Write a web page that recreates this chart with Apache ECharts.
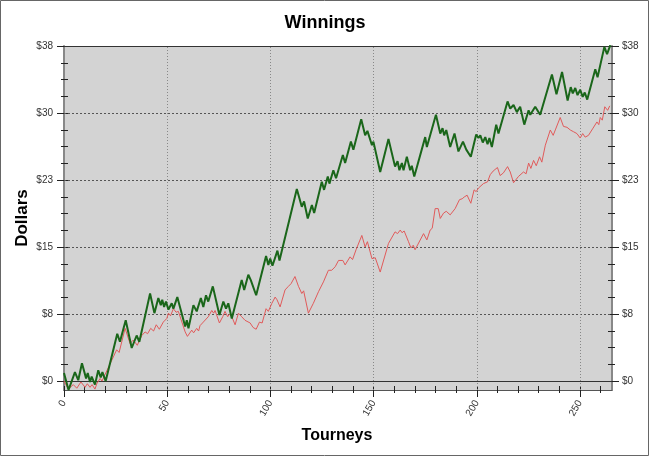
<!DOCTYPE html>
<html>
<head>
<meta charset="utf-8">
<script src="https://cdn.jsdelivr.net/npm/echarts@6/dist/echarts.min.js"></script>
<style>
html,body{margin:0;padding:0;background:#fff;}
#chart{width:650px;height:457px;}
</style>
</head>
<body>
<div id="chart"></div>
<script>
// ---- data (tourney, dollars) ----
const greenX = [0,2.2,5.3,6.9,8.7,10.7,11.5,12.6,13.4,15.0,
16.6,17.8,18.6,20.2,25.8,27.1,29.9,32.8,35.2,36.5,
41.7,43.8,45.7,46.9,47.6,48.5,49.4,50.6,52.2,53.0,
54.9,58.7,59.5,60.3,62.7,64.3,66.3,67.5,68.8,69.9,
72.1,75.3,77.2,78.5,79.6,81.3,86.1,87.3,89.3,90.5,
93.1,97.9,99.0,99.9,101.0,103.4,104.4,112.8,115.2,116.3,
118.1,120.1,121.2,124.9,126.0,127.8,128.6,130.5,131.8,135.1,
136.2,139.0,140.2,144.0,145.9,147.0,149.2,149.9,153.2,157.2,
160.4,161.6,162.5,163.7,164.5,166.1,167.7,168.5,169.7,175.0,
175.8,180.2,182.3,183.4,184.2,185.2,187.1,189.2,191.1,193.3,
194.9,197.1,199.7,200.8,201.7,202.9,204.1,205.2,206.1,207.3,
209.4,210.5,214.9,216.2,217.8,219.4,221.0,223.0,225.1,225.9,
228.3,230.7,236.4,238.6,241.3,244.0,245.5,246.5,247.7,248.8,
250.1,251.3,252.3,253.5,257.4,258.5,261.8,263.1,264.7];
const greenY = [0.9,-1.0,1.0,0.1,2.0,0.3,0.9,-0.1,0.5,-0.4,
1.2,0.4,1.0,0.0,5.3,4.4,6.8,3.7,5.1,4.4,
9.8,7.6,9.3,8.5,9.1,8.3,8.9,8.0,8.7,8.1,
9.4,6.1,6.8,5.9,8.5,7.8,9.3,8.3,9.6,8.9,
10.6,7.4,8.9,8.1,8.7,7.0,11.3,10.2,11.9,11.3,
9.6,14.0,13.0,13.7,12.9,14.6,13.5,21.5,19.5,20.1,
18.2,19.7,18.8,22.3,21.4,22.9,22.1,23.6,22.7,25.3,
24.4,26.8,25.9,29.3,27.5,28.0,26.4,26.8,23.4,27.1,
24.0,24.6,23.6,24.4,23.6,25.1,23.6,24.1,22.9,27.3,
26.2,29.8,27.7,28.3,27.5,28.1,26.2,27.7,25.7,26.8,
25.9,25.1,27.6,27.2,27.5,26.7,27.3,26.5,27.2,26.2,
28.7,27.7,31.3,30.5,30.9,30.1,30.7,28.7,30.3,29.8,
30.7,29.8,34.3,32.1,34.6,31.4,32.9,32.2,32.8,32.0,
32.6,31.8,32.3,31.5,34.9,34.0,37.4,36.6,37.6];

const redX = [0,2.1,4.5,6.2,8.2,10.2,11.3,12.6,13.6,15.0,
15.9,17.5,18.4,23.9,25.5,26.7,29.6,32.0,33.6,35.5,
37.7,39.3,40.5,42.0,43.4,44.7,46.2,48.1,49.8,50.6,
51.6,53.0,54.3,55.4,58.7,59.8,61.9,62.8,64.3,65.2,
65.9,67.5,68.3,69.9,71.6,72.5,73.2,75.3,76.9,78.0,
79.3,80.2,81.3,82.9,84.5,86.1,87.7,90.2,91.6,93.1,
94.7,96.0,97.9,99.0,100.7,102.3,103.2,104.7,107.1,108.7,
110.0,111.9,113.6,115.2,116.1,118.4,120.8,123.3,125.7,128.1,
129.7,131.4,133.0,135.1,136.2,138.6,139.8,141.5,144.3,145.9,
147.0,149.2,150.8,153.2,157.2,160.4,161.6,162.9,163.8,164.8,
166.9,168.1,169.2,170.1,174.2,175.8,177.4,178.4,179.8,181.3,
182.3,183.9,185.2,187.1,189.5,191.6,192.9,193.9,195.3,197.1,
198.7,199.7,200.8,201.6,203.2,205.2,206.5,207.9,210.0,211.3,
212.9,214.9,216.2,217.8,220.2,222.6,223.9,225.1,226.2,227.5,
228.8,230.4,231.5,233.2,235.6,237.0,238.2,240.4,242.0,243.7,
245.3,246.9,248.5,250.1,251.3,252.5,254.1,256.3,258.2,259.1,
259.8,260.8,262.0,263.4,264.4];
const redY = [0.0,-0.9,-0.4,-0.8,-0.1,-0.7,-0.3,-0.7,-0.4,-0.9,
-0.3,0.3,0.0,2.7,3.5,3.2,5.9,4.2,4.6,4.0,
5.1,5.5,5.3,5.9,5.6,6.3,5.8,6.6,7.0,7.6,
7.3,8.1,7.7,7.8,5.5,5.0,5.7,5.4,5.9,5.6,
6.2,6.6,6.4,7.2,7.9,7.6,7.9,6.5,7.2,7.8,
7.2,7.5,7.2,6.3,7.6,7.2,6.8,6.5,6.0,5.8,
6.6,6.5,8.1,7.8,8.7,9.4,9.1,8.3,10.2,10.6,
10.9,11.7,10.6,9.8,10.1,7.6,8.7,10.0,11.1,12.4,
12.4,12.8,13.5,13.5,13.0,13.9,13.6,14.7,16.3,15.0,
15.6,13.7,13.8,12.2,15.4,16.7,16.5,16.9,16.6,16.8,
15.6,14.9,15.2,14.7,16.5,15.8,16.9,17.1,19.3,19.3,
18.2,18.8,19.0,18.6,19.3,20.3,20.4,20.6,20.8,19.9,
21.4,21.2,21.6,21.4,22.1,22.3,23.1,23.5,23.9,23.0,
23.3,24.0,23.4,22.2,22.9,23.4,23.2,24.4,23.8,24.7,
24.1,25.1,24.5,26.4,28.1,27.5,28.2,29.5,28.5,28.4,
28.1,27.9,27.7,27.2,27.7,27.3,27.5,28.3,29.0,28.7,
29.5,29.2,30.7,30.3,30.8];

// tick values
const xMajorTicks = [0,50,100,150,200,250];
const xMinorTicks = [10,20,30,40,60,70,80,90,110,120,130,140,160,170,180,190,210,220,230,240,260];
const yMajorTicks = [0,7.5,15,22.5,30,37.5];
const yMinorTicks = [1.875,3.75,5.625,9.375,11.25,13.125,16.875,18.75,20.625,24.375,26.25,28.125,31.875,33.75,35.625];

const titleText = 'Winnings';
const xName = 'Tourneys';
const yName = 'Dollars';

// ---- chart ----
const FONT = '"Liberation Sans", Arial, sans-serif';
const X_MIN = 0, X_MAX = 265.5, Y_MIN = -1, Y_MAX = 37.5;
const allX = xMajorTicks.concat(xMinorTicks).sort((a,b)=>a-b);
const allY = yMajorTicks.concat(yMinorTicks).sort((a,b)=>a-b);

function zip(xs, ys){ return xs.map((x,i)=>[x, ys[i]]); }

function xAx(extra){
  return Object.assign({
    type:'value', min:X_MIN, max:X_MAX, position:'bottom',
    axisLine:{show:false, onZero:false},
    axisTick:{show:false},
    axisLabel:{show:false},
    splitLine:{show:false}
  }, extra);
}
function yAx(pos, extra){
  return Object.assign({
    type:'value', min:Y_MIN, max:Y_MAX, position:pos,
    axisLine:{show:false, onZero:false},
    axisTick:{show:false},
    axisLabel:{show:false},
    splitLine:{show:false}
  }, extra);
}
const tickStyle = {color:'#222', width:1};
const labelStyle = {fontSize:10, color:'#333', fontFamily:FONT};

const gridMarks = [];
[7.5,15,22.5,30].forEach(v=>gridMarks.push({yAxis:v, lineStyle:{color:'#555', type:[2,2], width:1}}));
gridMarks.push({yAxis:0, lineStyle:{color:'#333', type:'solid', width:1}});
gridMarks.push({yAxis:37.5, lineStyle:{color:'#333', type:'solid', width:1}});
[50,100,150,200,250].forEach(v=>gridMarks.push({xAxis:v, lineStyle:{color:'#888', type:[1,2], width:1}}));

const chart = echarts.init(document.getElementById('chart'), null, {renderer:'canvas'});
chart.setOption({
  animation:false,
  backgroundColor:'#fff',
  title:{text:titleText, left:'center', top:9, textStyle:{fontSize:18, fontWeight:'bold', color:'#000', fontFamily:FONT}},
  grid:{left:64, right:38, top:46, bottom:67, show:true, backgroundColor:'#d3d3d3', borderWidth:0},
  xAxis:[
    xAx({axisLine:{show:true, onZero:false, lineStyle:{color:'#555', width:1}},
         axisTick:{show:true, customValues:xMajorTicks, length:7, lineStyle:tickStyle},
         axisLabel:Object.assign({show:true, customValues:xMajorTicks, rotate:60, margin:11}, labelStyle)}),
    xAx({axisTick:{show:true, customValues:xMinorTicks, length:3, lineStyle:tickStyle}}),
    xAx({axisTick:{show:true, inside:true, customValues:allX, length:4, lineStyle:tickStyle}})
  ],
  yAxis:[
    yAx('left', {axisLine:{show:true, onZero:false, lineStyle:{color:'#888', width:2}},
         axisTick:{show:true, customValues:yMajorTicks, length:7, lineStyle:tickStyle},
         axisLabel:Object.assign({show:true, customValues:yMajorTicks, margin:11, formatter:v=>'$'+Math.round(v)}, labelStyle)}),
    yAx('left', {axisTick:{show:true, customValues:yMinorTicks, length:3, lineStyle:tickStyle}}),
    yAx('left', {axisTick:{show:true, inside:true, customValues:allY, length:4, lineStyle:tickStyle}}),
    yAx('right', {axisLine:{show:true, onZero:false, lineStyle:{color:'#888', width:2}},
         axisTick:{show:true, customValues:yMajorTicks, length:7, lineStyle:tickStyle},
         axisLabel:Object.assign({show:true, customValues:yMajorTicks, margin:10, formatter:v=>'$'+Math.round(v)}, labelStyle)}),
    yAx('right', {axisTick:{show:true, customValues:yMinorTicks, length:3, lineStyle:tickStyle}}),
    yAx('right', {axisTick:{show:true, inside:true, customValues:allY, length:4, lineStyle:tickStyle}})
  ],
  series:[
    {type:'line', xAxisIndex:0, yAxisIndex:0, data:[[0,0]], showSymbol:false, lineStyle:{opacity:0}, z:1,
     markLine:{silent:true, symbol:'none', z:1, label:{show:false}, animation:false, data:gridMarks}},
    {type:'line', name:'red', xAxisIndex:0, yAxisIndex:0, data:zip(redX, redY), showSymbol:false, symbol:'none',
     lineStyle:{color:'#e05a5a', width:1}, z:3, clip:true},
    {type:'line', name:'green', xAxisIndex:0, yAxisIndex:0, data:zip(greenX, greenY), showSymbol:false, symbol:'none',
     lineStyle:{color:'#1a661a', width:2}, z:4, clip:true}
  ],
  graphic:[
    {type:'rect', shape:{x:0.5, y:0.5, width:648, height:455}, style:{fill:'none', stroke:'#666', lineWidth:1}, silent:true},
    {type:'text', x:22, y:218, rotation:Math.PI/2, style:{text:yName, textAlign:'center', textVerticalAlign:'middle', font:'bold 17px ' + FONT, fill:'#000'}},
    {type:'text', x:337, y:436, style:{text:xName, textAlign:'center', textVerticalAlign:'middle', font:'bold 16px ' + FONT, fill:'#000'}}
  ]
});
</script>
</body>
</html>
